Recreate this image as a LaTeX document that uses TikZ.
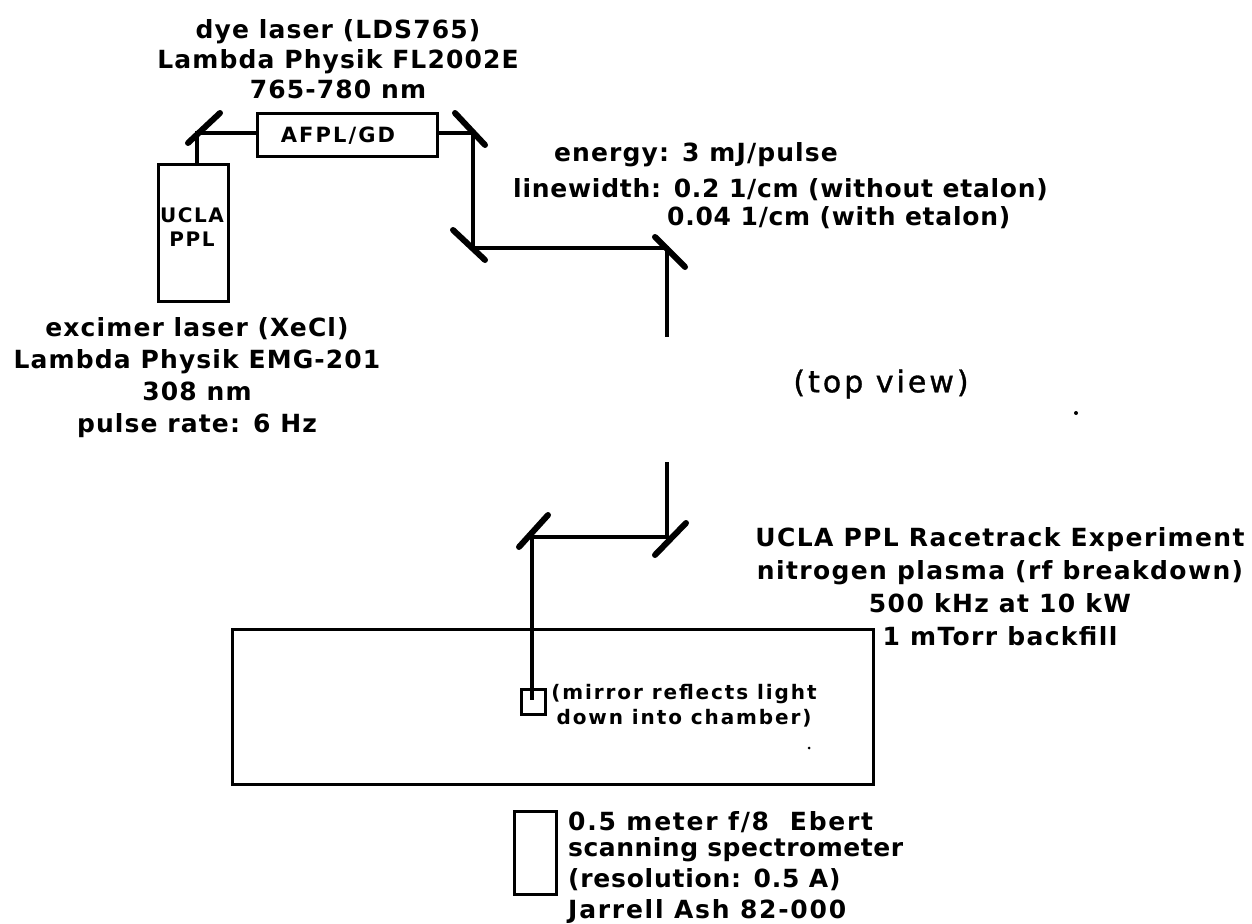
\documentclass[tikz,border=0pt]{standalone}
\usepackage{fontspec}
\setmainfont{DejaVu Sans}
\newcommand{\ls}[1]{\addfontfeatures{LetterSpace=#1}}
\begin{document}
\begin{tikzpicture}[x=1pt,y=-1pt,
  beam/.style={draw=black,line width=3.6pt},
  mirror/.style={draw=black,line width=6pt,line cap=round},
  boxs/.style={draw=black,line width=3.4pt,fill=none,inner sep=0pt,anchor=north west},
  lbl/.style={font=\bfseries\fontsize{25}{32}\selectfont\ls{4.5},align=center,inner sep=0pt,text=black},
  lbls/.style={font=\bfseries\fontsize{20}{25}\selectfont\ls{9.5},align=center,inner sep=0pt,text=black}]
\useasboundingbox (0,0) rectangle (1252,923);
% boxes
\node[boxs,minimum width=180pt,minimum height=43pt] (afpl) at (256,112) {};
\node[boxs,minimum width=70pt,minimum height=137pt] (ucla) at (157,163) {};
\node[boxs,line width=3pt,minimum width=641pt,minimum height=155pt] (chamber) at (231,628) {};
\node[boxs,line width=2.6pt,minimum width=24pt,minimum height=25pt] (small) at (520,688) {};
\node[boxs,minimum width=42pt,minimum height=83pt] (spec) at (513,810) {};
% mirrors
\coordinate (m1) at (197,133); \coordinate (m2) at (473,133);
\coordinate (m3) at (473,248); \coordinate (m4) at (667,248);
\coordinate (e1) at (667,337); \coordinate (s2) at (667,462);
\coordinate (m5) at (667,537); \coordinate (m6) at (532,537);
\coordinate (e2) at (532,700);
\draw[mirror] (188,143) -- (220,113);
\draw[mirror] (455,113) -- (485,145);
\draw[mirror] (453,230) -- (485,260);
\draw[mirror] (655,237) -- (685,267);
\draw[mirror] (655,555) -- (686,523);
\draw[mirror] (519,547) -- (548,515);
% beams
\draw[beam] (ucla.north -| m1) -- (m1) -- (afpl.west |- m1);
\draw[beam] (afpl.east |- m2) -- (m2) -- (m3) -- (m4) -- (e1);
\draw[beam] (s2) -- (m5) -- (m6) -- (e2);
% labels
\node[lbls,font=\bfseries\fontsize{21}{25}\selectfont\ls{10}] (t0) at (338,136) {AFPL/GD};
\node[lbls,font=\bfseries\fontsize{20}{23.5}\selectfont\ls{8}] (t1) at (192,227) {UCLA\\PPL};
\node[lbl,font=\bfseries\fontsize{25}{30}\selectfont\ls{4.5}] (t2) at (338,59) {dye laser (LDS765)\\Lambda Physik FL2002E\\765-780 nm};
\node[lbl] (t3) at (197,378) {excimer laser (XeCl)\\Lambda Physik EMG-201\\308 nm\\pulse rate: 6 Hz};
\node[lbl] (t4) at (696,155) {energy: 3 mJ/pulse};
\node[lbl,anchor=west,align=left,font=\bfseries\fontsize{25}{28}\selectfont\ls{3}] (t5) at (513,203.5) {linewidth: 0.2 1/cm (without etalon)\\\hspace*{154pt}0.04 1/cm (with etalon)};
\node[font=\fontsize{30}{36}\selectfont\addfontfeatures{LetterSpace=10,FakeBold=1.2},inner sep=0pt] (t6) at (881,384) {(top view)};
\node[lbl,font=\bfseries\fontsize{25}{33}\selectfont\ls{5.5}] (t7) at (1000,587) {UCLA PPL Racetrack Experiment\\nitrogen plasma (rf breakdown)\\500 kHz at 10 kW\\1 mTorr backfill};
\node[lbls] (t8) at (684,706) {(mirror reflects light\\down into chamber)};
\node[lbl,anchor=west,align=left] (t9) at (568,867) {\ls{7}0.5 meter f/8\ \ Ebert\\[-6pt]\ls{2}scanning spectrometer\\[-1pt]\ls{3}(resolution: 0.5 A)\\[-1pt]\ls{7}Jarrell Ash 82-000};
% specks
\fill (1076,413) circle (2pt);
\fill (809,748) circle (1.5pt);
\end{tikzpicture}
\end{document}
